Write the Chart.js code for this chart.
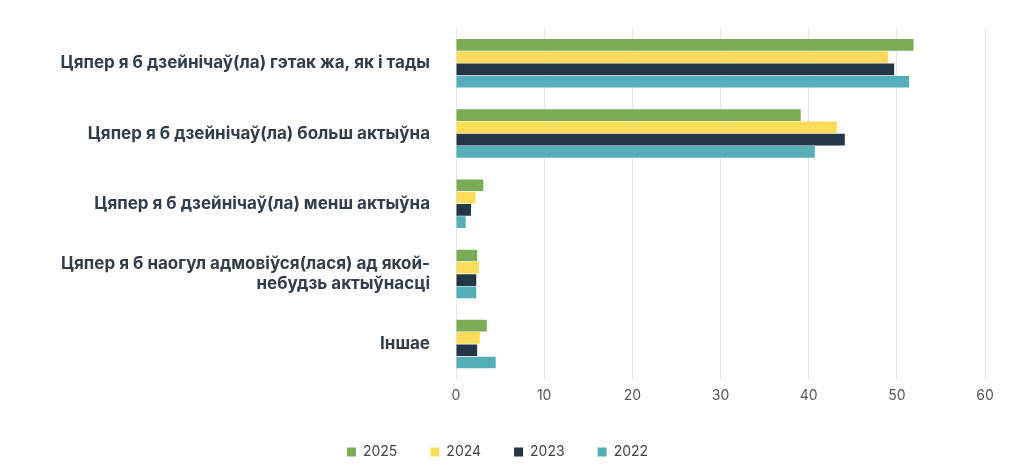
<!DOCTYPE html>
<html><head><meta charset="utf-8">
<script src="https://cdn.jsdelivr.net/npm/chart.js@4"></script>
<style>html,body{margin:0;background:#fff}#w{width:1024px;height:469px}</style>
</head><body><div id="w"><canvas id="c"></canvas></div>
<script>
const categories = [
  "Цяпер я б дзейнічаў(ла) гэтак жа, як і тады",
  "Цяпер я б дзейнічаў(ла) больш актыўна",
  "Цяпер я б дзейнічаў(ла) менш актыўна",
  ["Цяпер я б наогул адмовіўся(лася) ад якой-", "небудзь актыўнасці"],
  "Іншае"
];
const s2025 = [51.9, 39.1, 3.1, 2.4, 3.5];
const s2024 = [49.0, 43.2, 2.2, 2.6, 2.7];
const s2023 = [49.7, 44.1, 1.7, 2.3, 2.4];
const s2022 = [51.4, 40.7, 1.1, 2.3, 4.5];
const xTicks = [0, 10, 20, 30, 40, 50, 60];

new Chart(document.getElementById('c'), {
  type: 'bar',
  data: {
    labels: categories,
    datasets: [
      {label: '2025', data: s2025, backgroundColor: '#7aac55'},
      {label: '2024', data: s2024, backgroundColor: '#fddc5c'},
      {label: '2023', data: s2023, backgroundColor: '#253746'},
      {label: '2022', data: s2022, backgroundColor: '#55aeb8'}
    ]
  },
  options: {
    indexAxis: 'y', responsive: true, maintainAspectRatio: false, animation: false,
    layout: {padding: {top: 4, right: 39, bottom: 0, left: 10}},
    datasets: {bar: {barPercentage: 0.95, categoryPercentage: 0.7}},
    scales: {
      x: {min: 0, max: 60, afterBuildTicks: s => { s.ticks = xTicks.map(v => ({value: v})); },
          grid: {color: '#e4e4ec', drawTicks: false}, border: {display: false},
          ticks: {color: '#555', font: {family: 'Inter', size: 14}, padding: 8}},
      y: {grid: {display: false}, border: {display: false},
          afterFit: s => { s.width = 446; },
          ticks: {color: '#2f3d4c', font: {family: 'Inter', size: 17, weight: 'bold'}, padding: 18}}
    },
    plugins: {
      legend: {position: 'bottom', labels: {boxWidth: 9, boxHeight: 9, padding: 33, color: '#444', font: {family: 'Inter', size: 14}}},
      tooltip: {enabled: false}
    }
  }
});
</script></body></html>
